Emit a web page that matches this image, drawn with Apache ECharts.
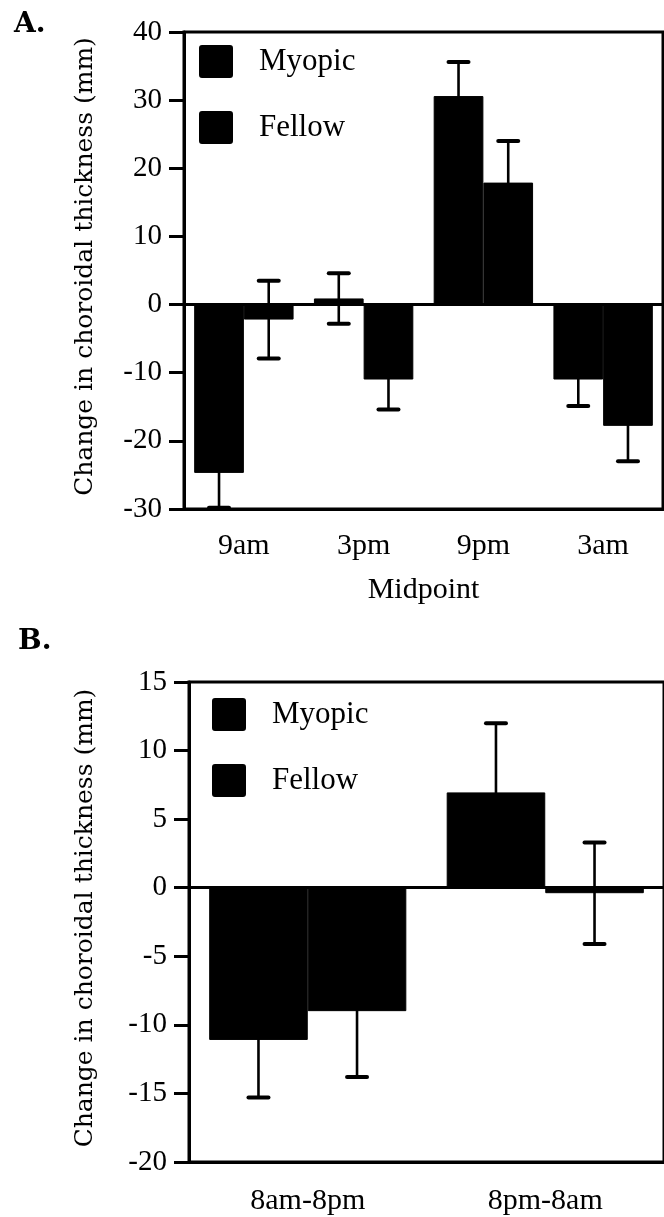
<!DOCTYPE html>
<html>
<head>
<meta charset="utf-8">
<script src="https://cdn.jsdelivr.net/npm/echarts@6/dist/echarts.min.js"></script>
<style>
html,body{margin:0;padding:0;background:#fff;}
#chart{width:664px;height:1217px;}
</style>
</head>
<body>
<div id="chart"></div>
<script>
// ---- Panel A data ----
const categoriesA = ['9am', '3pm', '9pm', '3am'];
const myopicA = [-24.7, 0.9, 30.6, -11.0];
const myopicErrA = [5.1, 3.7, 5.0, 3.9];
const fellowA = [-2.2, -11.0, 17.9, -17.8];
const fellowErrA = [5.7, 4.4, 6.1, 5.2];
const yTicksA = [-30, -20, -10, 0, 10, 20, 30, 40];

// ---- Panel B data ----
const categoriesB = ['8am-8pm', '8pm-8am'];
const myopicB = [-11.1, 6.95];
const myopicErrB = [4.2, 5.05];
const fellowB = [-9.0, -0.4];
const fellowErrB = [4.8, 3.7];
const yTicksB = [-20, -15, -10, -5, 0, 5, 10, 15];

const seriesNames = ['Myopic', 'Fellow'];
const yTitle = 'Change in choroidal thickness (mm)';

const CAT_GAP = 0.17;
const SERIF = '"Liberation Serif", "Times New Roman", serif';
const TITLE_SERIF = '"DejaVu Serif", serif';

function errRender(sign) {
  return function (params, api) {
    const cat = api.value(0), val = api.value(1), err = api.value(2);
    const base = api.coord([cat, val]);
    const catW = api.size([1, 0])[0];
    const barW = catW * (1 - CAT_GAP) / 2;
    const x = base[0] + sign * barW / 2;
    const top = api.coord([cat, val + err])[1];
    const bot = api.coord([cat, val - err])[1];
    const cw = 20;
    const st = {stroke: '#000', lineWidth: 2.6};
    const cap = {stroke: '#000', lineWidth: 4, lineCap: 'round'};
    return {type: 'group', children: [
      {type: 'line', shape: {x1: x, y1: top, x2: x, y2: bot}, style: st},
      {type: 'line', shape: {x1: x - cw / 2, y1: top, x2: x + cw / 2, y2: top}, style: cap},
      {type: 'line', shape: {x1: x - cw / 2, y1: bot, x2: x + cw / 2, y2: bot}, style: cap}
    ]};
  };
}

function errData(vals, errs) {
  return vals.map((v, i) => [i, v, errs[i]]);
}

function xAxisCfg(cats, gridIndex, name, margin) {
  return {
    type: 'category', gridIndex: gridIndex, data: cats,
    axisLine: {onZero: false, lineStyle: {color: '#000', width: 3}},
    axisTick: {alignWithLabel: true, length: 14, lineStyle: {color: '#000', width: 3}},
    axisLabel: {color: '#000', fontFamily: SERIF, fontSize: 30, margin: margin},
    splitLine: {show: false},
    name: name || '', nameLocation: 'middle', nameGap: 66,
    nameTextStyle: {color: '#000', fontFamily: SERIF, fontSize: 30}
  };
}

function yAxisCfg(ticks, gridIndex, gap) {
  return {
    type: 'value', gridIndex: gridIndex,
    min: ticks[0], max: ticks[ticks.length - 1], interval: ticks[1] - ticks[0],
    axisLine: {show: true, lineStyle: {color: '#000', width: 3}},
    axisTick: {show: true, length: 15, lineStyle: {color: '#000', width: 3}},
    axisLabel: {color: '#000', fontFamily: SERIF, fontSize: 29, margin: 22},
    splitLine: {show: false},
    name: yTitle, nameLocation: 'middle', nameRotate: 90, nameGap: gap,
    nameTextStyle: {color: '#000', fontFamily: TITLE_SERIF, fontSize: 25, padding: [0, 0, 0, 8]}
  };
}

function barSeries(name, data, idx, withZero) {
  const s = {
    type: 'bar', name: name, xAxisIndex: idx, yAxisIndex: idx, data: data,
    barGap: '0%', barCategoryGap: (CAT_GAP * 100) + '%',
    itemStyle: {color: '#000', borderColor: '#000', borderWidth: 1}, z: 2
  };
  if (withZero) {
    s.markLine = {
      silent: true, symbol: 'none', label: {show: false},
      lineStyle: {color: '#000', width: 3, type: 'solid'},
      data: [{yAxis: 0}]
    };
  }
  return s;
}

function errSeries(vals, errs, sign, idx) {
  return {
    type: 'custom', xAxisIndex: idx, yAxisIndex: idx,
    renderItem: errRender(sign), data: errData(vals, errs), z: 5, silent: true
  };
}

function legendCfg(left, top) {
  return {
    orient: 'vertical', left: left, top: top, padding: 0,
    data: seriesNames, icon: 'path://M2,0 L30,0 Q32,0 32,2 L32,29 Q32,31 30,31 L2,31 Q0,31 0,29 L0,2 Q0,0 2,0 Z',
    itemWidth: 32, itemHeight: 31, itemGap: 33,
    selectedMode: false,
    textStyle: {color: '#000', fontFamily: SERIF, fontSize: 31, padding: [0, 0, 0, 22]}
  };
}

const chart = echarts.init(document.getElementById('chart'), null, {renderer: 'canvas'});
chart.setOption({
  backgroundColor: '#fff',
  animation: false,
  title: [
    {text: 'A.', left: 14, top: 11, padding: 0,
     textStyle: {fontFamily: TITLE_SERIF, fontWeight: 'bold', fontSize: 28, color: '#000'}},
    {text: 'B.', left: 18, top: 628, padding: 0,
     textStyle: {fontFamily: TITLE_SERIF, fontWeight: 'bold', fontSize: 28, color: '#000'}}
  ],
  legend: [legendCfg(199, 45), legendCfg(212, 698)],
  grid: [
    {left: 184, top: 32, width: 479, height: 477, show: true, borderColor: '#000', borderWidth: 3, containLabel: false},
    {left: 189, top: 682, width: 484, height: 480, show: true, borderColor: '#000', borderWidth: 3, containLabel: false}
  ],
  xAxis: [xAxisCfg(categoriesA, 0, 'Midpoint', 22), xAxisCfg(categoriesB, 1, '', 24)],
  yAxis: [yAxisCfg(yTicksA, 0, 86), yAxisCfg(yTicksB, 1, 91)],
  series: [
    barSeries('Myopic', myopicA, 0, true),
    barSeries('Fellow', fellowA, 0, false),
    errSeries(myopicA, myopicErrA, -1, 0),
    errSeries(fellowA, fellowErrA, 1, 0),
    barSeries('Myopic', myopicB, 1, true),
    barSeries('Fellow', fellowB, 1, false),
    errSeries(myopicB, myopicErrB, -1, 1),
    errSeries(fellowB, fellowErrB, 1, 1)
  ]
});
</script>
</body>
</html>
